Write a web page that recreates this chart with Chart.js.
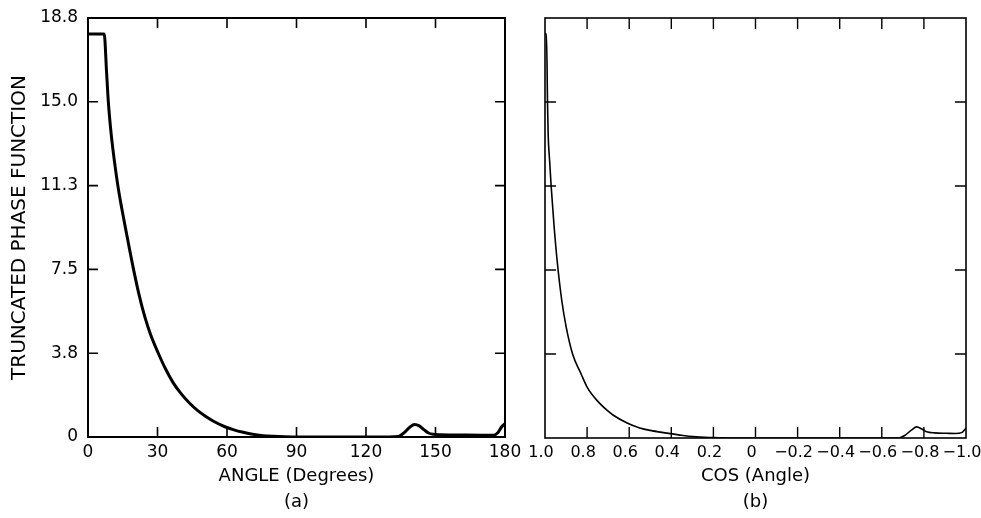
<!DOCTYPE html>
<html><head><meta charset="utf-8">
<script src="https://cdn.jsdelivr.net/npm/chart.js@4/dist/chart.umd.min.js"></script>
<style>
html,body{margin:0;padding:0;background:#fff;width:981px;height:518px;overflow:hidden}
canvas{position:absolute;top:0}
#ca{left:0}
#cb{left:525px}
</style></head><body>
<canvas id="ca" width="525" height="518"></canvas>
<canvas id="cb" width="456" height="518"></canvas>
<script>
// ---- Panel (a): phase function vs scattering angle ----
const angleDeg = [0, 7, 8, 8.8, 10, 11.5, 13, 14.5, 16.5, 19.5, 22, 24.5, 27, 30.3, 33.5, 36.8, 40, 44, 47.5, 51.2, 55, 59.1, 63, 67, 71, 75.6, 80, 85, 90, 100, 110, 120, 130, 134, 136.5, 139, 141, 143, 145, 147, 149, 152, 160, 170, 175, 177, 178.5, 180];
const phaseA   = [18.08, 18.08, 16.4, 15.0, 13.6, 12.3, 11.2, 10.3, 9.2, 7.6, 6.4, 5.4, 4.6, 3.77, 3.05, 2.43, 1.97, 1.5, 1.17, 0.9, 0.66, 0.46, 0.32, 0.21, 0.12, 0.06, 0.03, 0.01, 0, 0, 0, 0, 0, 0.02, 0.2, 0.45, 0.56, 0.5, 0.33, 0.18, 0.12, 0.1, 0.09, 0.08, 0.08, 0.2, 0.45, 0.6];

// ---- Panel (b): phase function vs cos(angle) ----
const cosAngle = [1.0, 0.993, 0.988, 0.985, 0.978, 0.971, 0.957, 0.943, 0.921, 0.9, 0.867, 0.83, 0.8, 0.75, 0.7, 0.677, 0.61, 0.55, 0.5, 0.42, 0.35, 0.297, 0.2, 0.1, 0, -0.3, -0.6, -0.68, -0.71, -0.74, -0.766, -0.79, -0.813, -0.85, -0.908, -0.95, -0.979, -0.99, -1.0];
const phaseB   = [18.08, 18.08, 15.0, 13.6, 12.4, 11.3, 9.5, 8.0, 6.2, 5.0, 3.7, 2.9, 2.28, 1.65, 1.2, 1.03, 0.67, 0.45, 0.34, 0.22, 0.12, 0.06, 0.02, 0, 0, 0, 0, 0, 0.12, 0.35, 0.5, 0.4, 0.28, 0.23, 0.21, 0.2, 0.24, 0.33, 0.45];

// ---- Tick values and labels ----
const yTickValues  = [0, 3.76, 7.52, 11.28, 15.04, 18.8];
const yTickLabels  = ['0', '3.8', '7.5', '11.3', '15.0', '18.8'];
const xTickValuesA = [0, 30, 60, 90, 120, 150, 180];
const xTickLabelsA = ['0', '30', '60', '90', '120', '150', '180'];
const xTickValuesB = [1.0, 0.8, 0.6, 0.4, 0.2, 0, -0.2, -0.4, -0.6, -0.8, -1.0];
const xTickLabelsB = ['1.0', '0.8', '0.6', '0.4', '0.2', '0', '\u22120.2', '\u22120.4', '\u22120.6', '\u22120.8', '\u22121.0'];

const yTitle  = 'TRUNCATED PHASE FUNCTION';
const xTitleA = ['ANGLE (Degrees)', '(a)'];
const xTitleB = ['COS (Angle)', '(b)'];

const FONT = 'DejaVu Sans';

const frameTicks = {
  id: 'frameTicks',
  afterDatasetsDraw(chart, args, opts) {
    const {ctx, chartArea: a, scales: {x, y}} = chart;
    ctx.save();
    ctx.strokeStyle = '#000';
    ctx.lineWidth = opts.tick;
    ctx.beginPath();
    x.ticks.forEach(t => {
      const px = x.getPixelForValue(t.value);
      if (px <= a.left + 2 || px >= a.right - 2) return;
      ctx.moveTo(px, a.bottom); ctx.lineTo(px, a.bottom - opts.len);
      ctx.moveTo(px, a.top); ctx.lineTo(px, a.top + opts.len);
    });
    y.ticks.forEach(t => {
      const py = y.getPixelForValue(t.value);
      if (py <= a.top + 2 || py >= a.bottom - 2) return;
      ctx.moveTo(a.left, py); ctx.lineTo(a.left + opts.len, py);
      ctx.moveTo(a.right, py); ctx.lineTo(a.right - opts.len, py);
    });
    ctx.stroke();
    ctx.lineWidth = opts.frame;
    ctx.strokeRect(a.left, a.top, a.right - a.left, a.bottom - a.top);
    ctx.restore();
  }
};

function yScale(showLabels, width) {
  return {
    type: 'linear', min: 0, max: 18.8,
    afterBuildTicks: s => { s.ticks = yTickValues.map(v => ({value: v})); },
    afterFit: s => { s.width = width; s.paddingTop = 0; s.paddingBottom = 0; },
    grid: {display: false, drawTicks: false},
    border: {display: false},
    ticks: {display: showLabels, padding: 10, color: '#000',
      font: {family: FONT, size: 17}, callback: (v, i) => yTickLabels[i]},
    title: {display: showLabels, text: yTitle, color: '#000',
      font: {family: FONT, size: 20}, padding: {top: 8, bottom: 0}}
  };
}

function xScale(vals, labels, title, min, max, reverse, height, fsize, loff) {
  return {
    type: 'linear', min: min, max: max, reverse: reverse,
    afterBuildTicks: s => { s.ticks = vals.map(v => ({value: v})); },
    afterFit: s => { s.height = height; s.paddingLeft = 0; s.paddingRight = 0; },
    grid: {display: false, drawTicks: false},
    border: {display: false},
    ticks: {autoSkip: false, maxRotation: 0, minRotation: 0, padding: 5, color: '#000',
      labelOffset: loff, font: {family: FONT, size: fsize}, callback: (v, i) => labels[i]},
    title: {display: true, text: title, color: '#000',
      font: {family: FONT, size: 18, lineHeight: 1.45}, padding: {top: 0, bottom: 3}}
  };
}

new Chart(document.getElementById('ca'), {
  type: 'line',
  data: {datasets: [{
    data: angleDeg.map((a, i) => ({x: a, y: phaseA[i]})),
    borderColor: '#000', borderWidth: 3, pointRadius: 0,
    cubicInterpolationMode: 'monotone', borderJoinStyle: 'round', fill: false
  }]},
  options: {
    responsive: false, animation: false, events: [],
    layout: {padding: {top: 18, left: 0, right: 20, bottom: 0}},
    plugins: {legend: {display: false}, tooltip: {enabled: false},
      frameTicks: {frame: 2, tick: 1.6, len: 10}},
    scales: {
      x: xScale(xTickValuesA, xTickLabelsA, xTitleA, 0, 180, false, 81, 17, 0),
      y: yScale(true, 88)
    }
  },
  plugins: [frameTicks]
});

new Chart(document.getElementById('cb'), {
  type: 'line',
  data: {datasets: [{
    data: cosAngle.map((c, i) => ({x: c, y: phaseB[i]})),
    borderColor: '#000', borderWidth: 1.6, pointRadius: 0,
    cubicInterpolationMode: 'monotone', borderJoinStyle: 'round', fill: false
  }]},
  options: {
    responsive: false, animation: false, events: [],
    layout: {padding: {top: 18, left: 0, right: 15, bottom: 0}},
    plugins: {legend: {display: false}, tooltip: {enabled: false},
      frameTicks: {frame: 1.6, tick: 1.4, len: 11}},
    scales: {
      x: xScale(xTickValuesB, xTickLabelsB, xTitleB, -1, 1, true, 80, 16, -4),
      y: yScale(false, 20)
    }
  },
  plugins: [frameTicks]
});
</script>
</body></html>
